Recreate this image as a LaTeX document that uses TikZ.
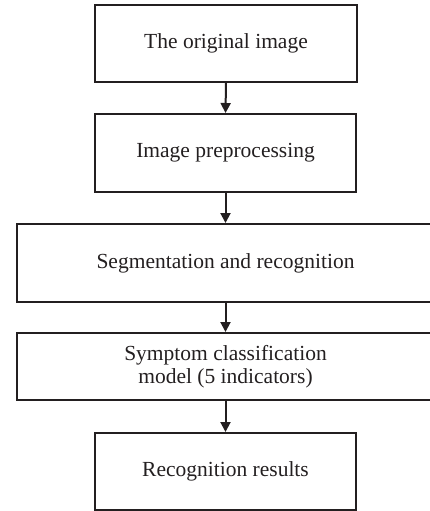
\documentclass[tikz,border=0pt]{standalone}
\usepackage{fontspec}
\setmainfont{Liberation Serif}
\usetikzlibrary{arrows.meta}
\definecolor{ink}{HTML}{231F20}
\begin{document}
\begin{tikzpicture}[x=1pt,y=-1pt,
  lbl/.style={font=\fontsize{21.5}{23}\selectfont,text=ink,align=center,inner sep=0pt},
  box/.style={lbl,draw=ink,line width=2pt,rectangle},
  arr/.style={draw=ink,line width=2pt,-{Triangle[width=10pt,length=10pt]}}]
\useasboundingbox (0,0) rectangle (429,511);
\node[box,minimum width=262pt,minimum height=77pt] (a) at (226,43.4) {The original image};
\node[box,minimum width=261pt,minimum height=78pt] (b) at (225.5,153) {Image preprocessing};
\node[box,minimum width=423pt,minimum height=78pt] (c) at (228.5,263) {};
\node[lbl] (ct) at (225.5,263) {Segmentation and recognition};
\node[box,minimum width=423pt,minimum height=67pt] (d) at (228.5,366.5) {};
\node[lbl] (dt) at (225.5,367) {Symptom classification\\model (5 indicators)};
\node[box,minimum width=261pt,minimum height=77pt] (e) at (225.5,471.5) {Recognition results};
\draw[arr] (a.south) -- (b.north);
\draw[arr] (b.south) -- (b.south |- c.north);
\draw[arr] (b.south |- c.south) -- (b.south |- d.north);
\draw[arr] (b.south |- d.south) -- (e.north);
\end{tikzpicture}
\end{document}
